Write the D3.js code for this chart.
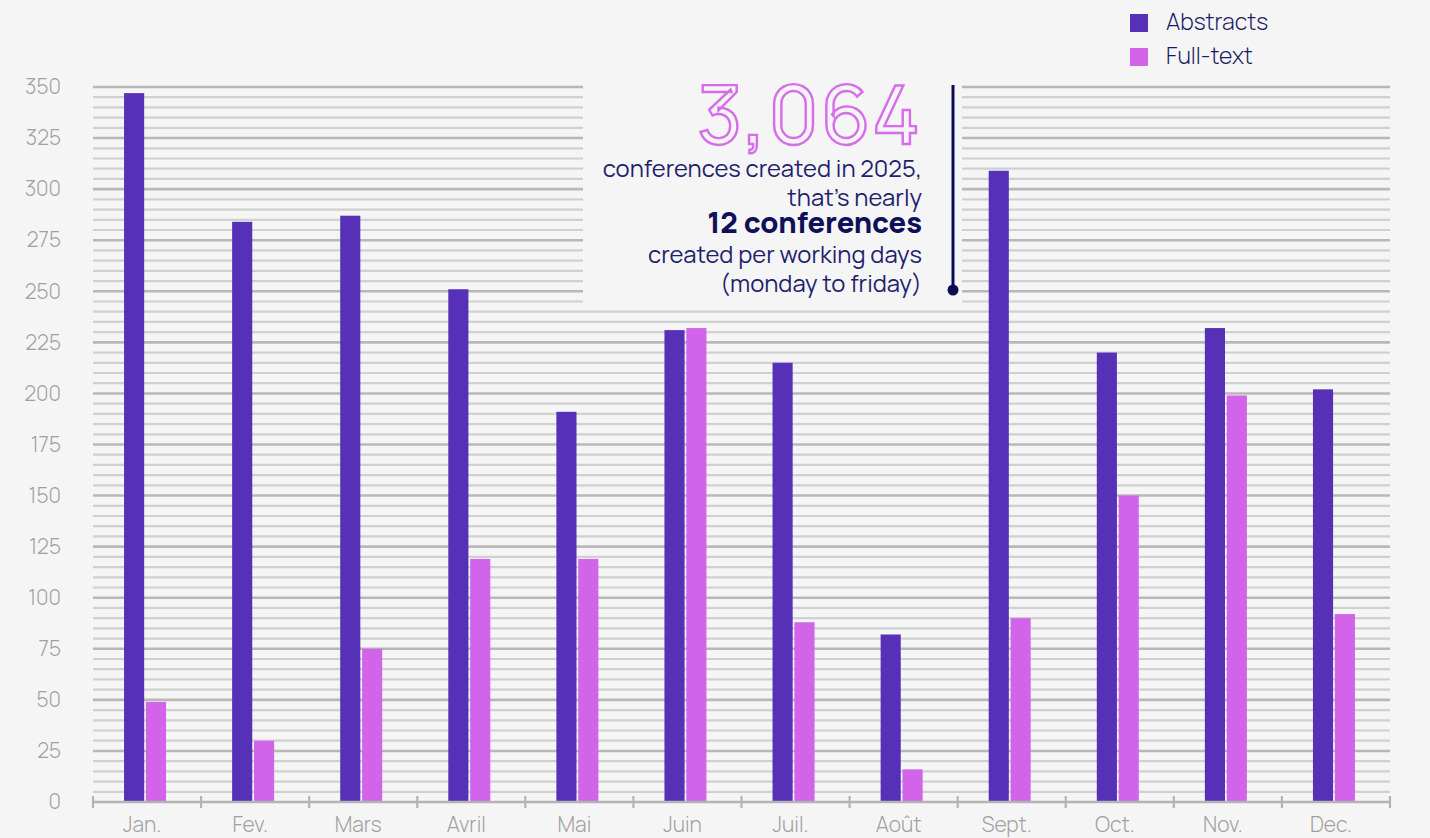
<!DOCTYPE html>
<html>
<head>
<meta charset="utf-8">
<script src="https://cdn.jsdelivr.net/npm/d3@7/dist/d3.min.js"></script>
<style>
  html, body { margin: 0; padding: 0; background: #f5f5f5; }
  svg { display: block; }
</style>
</head>
<body>
<svg id="chart" width="1430" height="838"></svg>
<script>
// Monthly conference creation, 2025
const months = ["Jan.", "Fev.", "Mars", "Avril", "Mai", "Juin", "Juil.", "Août", "Sept.", "Oct.", "Nov.", "Dec."];
const seriesNames = ["Abstracts", "Full-text"];
const abstracts = [347, 284, 287, 251, 191, 231, 215, 82, 309, 220, 232, 202];
const fullText  = [49, 30, 75, 119, 119, 232, 88, 16, 90, 150, 199, 92];
const yTicks = [0, 25, 50, 75, 100, 125, 150, 175, 200, 225, 250, 275, 300, 325, 350];
const headline = "3,064";
const noteLines = [
  { text: "conferences created in 2025,", bold: false },
  { text: "that’s nearly", bold: false },
  { text: "12 conferences", bold: true },
  { text: "created per working days", bold: false },
  { text: "(monday to friday)", bold: false }
];

const colors = { "Abstracts": "#5631b8", "Full-text": "#d164e9" };
const font = "Manrope, Inter, 'Noto Sans', sans-serif";

const svg = d3.select("#chart");
const margin = { left: 93, top: 87 };
const plotRight = 1390, plotBottom = 802;

const x = d3.scaleBand().domain(months).range([margin.left, plotRight]).padding(0);
const y = d3.scaleLinear().domain([0, 350]).range([plotBottom, margin.top]);
const pairShift = -2;
const labelShift = -5;
const x1 = d3.scaleBand().domain(seriesNames)
  .range([pairShift - 21, pairShift + 21]).paddingInner(0.08);

// Gridlines every 5 units, stronger every 25
const grid = svg.append("g");
d3.range(5, 351, 5).forEach(v => {
  const major = v % 25 === 0;
  grid.append("line")
    .attr("x1", margin.left).attr("x2", plotRight)
    .attr("y1", y(v)).attr("y2", y(v))
    .attr("stroke", major ? "#b8b8b8" : "#d0d0d0")
    .attr("stroke-width", major ? 2.6 : 2.2);
});

// Clear panel behind the annotation
svg.append("rect")
  .attr("x", 583).attr("y", 78)
  .attr("width", 962 - 583).attr("height", y(242) - 78)
  .attr("fill", "#f5f5f5");

// Bars
const rows = months.map((m, i) => ({ month: m, values: [
  { key: "Abstracts", value: abstracts[i] },
  { key: "Full-text", value: fullText[i] }
]}));

const groups = svg.append("g").selectAll("g")
  .data(rows).join("g")
  .attr("transform", d => `translate(${x(d.month) + x.bandwidth() / 2},0)`);

groups.selectAll("rect")
  .data(d => d.values).join("rect")
  .attr("x", d => x1(d.key))
  .attr("width", x1.bandwidth())
  .attr("y", d => y(d.value))
  .attr("height", d => y(0) - y(d.value))
  .attr("fill", d => colors[d.key]);

// Y axis labels
const yAxis = svg.append("g")
  .attr("transform", `translate(61,0)`)
  .call(d3.axisLeft(y).tickValues(yTicks).tickSize(0).tickPadding(0));
yAxis.select(".domain").remove();
yAxis.selectAll("text")
  .attr("font-family", font).attr("font-weight", 300)
  .attr("font-size", 21).attr("fill", "#a0a0a0");

// X axis with boundary ticks
const xAxisG = svg.append("g");
xAxisG.append("line")
  .attr("x1", margin.left).attr("x2", plotRight)
  .attr("y1", plotBottom).attr("y2", plotBottom)
  .attr("stroke", "#b4b4b4").attr("stroke-width", 2.5);
const bounds = months.map(m => x(m)).concat([plotRight]);
xAxisG.selectAll("line.tick").data(bounds).join("line")
  .attr("class", "tick")
  .attr("x1", d => d).attr("x2", d => d)
  .attr("y1", plotBottom - 6).attr("y2", plotBottom + 6)
  .attr("stroke", "#b4b4b4").attr("stroke-width", 2.2);
xAxisG.selectAll("text").data(months).join("text")
  .attr("x", d => x(d) + x.bandwidth() / 2 + labelShift)
  .attr("y", 832)
  .attr("text-anchor", "middle")
  .attr("font-family", font).attr("font-weight", 300)
  .attr("font-size", 21).attr("fill", "#a0a0a0")
  .text(d => d);

// Legend
const legend = svg.append("g").attr("transform", "translate(1130,14)");
seriesNames.forEach((s, i) => {
  const g = legend.append("g").attr("transform", `translate(0,${i * 34})`);
  g.append("rect").attr("width", 18).attr("height", 18).attr("fill", colors[s]);
  g.append("text").attr("x", 36).attr("y", 16)
    .attr("font-family", font).attr("font-size", 23).attr("font-weight", 300)
    .attr("fill", "#1c1c66").text(s);
});

// Annotation
const note = svg.append("g");
note.append("text")
  .attr("x", 922).attr("y", 144)
  .attr("text-anchor", "end")
  .attr("font-family", font).attr("font-size", 80).attr("font-weight", 500)
  .attr("letter-spacing", 2)
  .attr("fill", "none").attr("stroke", "#d66ee9").attr("stroke-width", 2.4)
  .text(headline);
const lineY = [177, 206, 233, 263, 292];
noteLines.forEach((l, i) => {
  note.append("text")
    .attr("x", 922).attr("y", lineY[i])
    .attr("text-anchor", "end")
    .attr("font-family", font)
    .attr("font-size", l.bold ? 29 : 23.8)
    .attr("font-weight", l.bold ? 800 : 400)
    .attr("fill", l.bold ? "#0f0f5a" : "#1f1f6e")
    .text(l.text);
});
note.append("line")
  .attr("x1", 953).attr("x2", 953).attr("y1", 85).attr("y2", 290)
  .attr("stroke", "#0c0c55").attr("stroke-width", 3);
note.append("circle")
  .attr("cx", 953).attr("cy", 290).attr("r", 5.5).attr("fill", "#0c0c55");
</script>
</body>
</html>
